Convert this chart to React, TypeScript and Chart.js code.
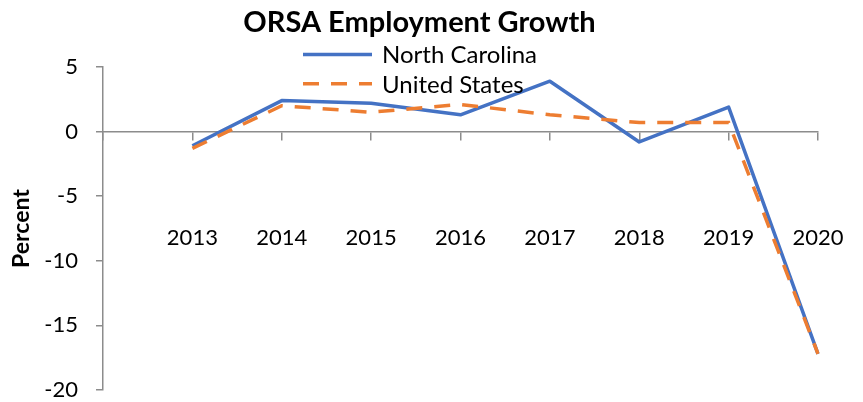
import React, { useEffect, useRef } from 'react';
import { Chart, registerables } from 'chart.js';

Chart.register(...registerables);

// ---- data ----
const categories = ['', '2013', '2014', '2015', '2016', '2017', '2018', '2019', '2020'];
const northCarolina = [null, -1.1, 2.4, 2.2, 1.3, 3.9, -0.8, 1.9, -17.2];
const unitedStates = [null, -1.3, 2.0, 1.5, 2.1, 1.3, 0.7, 0.7, -17.2];
const seriesNames = ['North Carolina', 'United States'];
const yMin = -20;
const yMax = 5;
const yStep = 5;
const chartTitle = 'ORSA Employment Growth';
const yAxisTitle = 'Percent';

const FONT = 'Lato';
const AXIS_GRAY = '#8c8c8c';

const stackedLegend = {
  id: 'stackedLegend',
  afterDraw(chart: any) {
    const ctx = chart.ctx;
    const x0 = 303;
    const lineLen = 69;
    const textX = 382;
    const y0 = 54.5;
    const rowH = 29.3;
    ctx.save();
    chart.data.datasets.forEach((ds: any, i: number) => {
      const y = y0 + i * rowH;
      ctx.beginPath();
      ctx.setLineDash(ds.borderDash || []);
      ctx.lineWidth = ds.borderWidth;
      ctx.strokeStyle = ds.borderColor;
      ctx.lineCap = 'butt';
      ctx.moveTo(x0, y);
      ctx.lineTo(x0 + lineLen, y);
      ctx.stroke();
      ctx.setLineDash([]);
      ctx.fillStyle = '#000';
      ctx.font = `24px ${FONT}`;
      ctx.textBaseline = 'middle';
      ctx.textAlign = 'left';
      ctx.fillText(ds.label, textX, y + 1);
    });
    ctx.restore();
  },
};

export default function App() {
  const ref = useRef<HTMLCanvasElement | null>(null);

  useEffect(() => {
    if (!ref.current) return;
    const chart = new Chart(ref.current, {
      type: 'line',
      data: {
        labels: categories,
        datasets: [
          {
            label: seriesNames[0],
            data: northCarolina,
            borderColor: '#4472C4',
            backgroundColor: '#4472C4',
            borderWidth: 3.5,
            pointRadius: 0,
            tension: 0,
            borderJoinStyle: 'round',
            order: 1,
          },
          {
            label: seriesNames[1],
            data: unitedStates,
            borderColor: '#ED7D31',
            backgroundColor: '#ED7D31',
            borderWidth: 3.5,
            borderDash: [16, 12],
            pointRadius: 0,
            tension: 0,
            order: 0,
          },
        ],
      },
      options: {
        responsive: false,
        animation: false,
        color: '#000',
        layout: { padding: { left: 0, right: 24, top: 0, bottom: 12 } },
        plugins: {
          legend: { display: false },
          tooltip: { enabled: false },
          title: {
            display: true,
            text: chartTitle,
            color: '#000',
            font: { family: FONT, size: 29, weight: 'bold', lineHeight: 1.2 },
            padding: { top: 5.6, bottom: 26.6 },
          },
        },
        scales: {
          x: {
            type: 'category',
            position: { y: 0 },
            offset: false,
            grid: {
              drawOnChartArea: false,
              color: AXIS_GRAY,
              lineWidth: 1.5,
              tickLength: 8,
            },
            border: { display: true, color: AXIS_GRAY, width: 1.5 },
            ticks: {
              color: '#000',
              font: { family: FONT, size: 22, lineHeight: 1.2 },
              padding: 85,
              autoSkip: false,
              maxRotation: 0,
              minRotation: 0,
            },
            afterFit: (s: any) => {
              s.paddingLeft = 0;
              s.paddingRight = 45;
            },
          },
          y: {
            type: 'linear',
            position: 'left',
            min: yMin,
            max: yMax,
            grid: {
              drawOnChartArea: false,
              color: AXIS_GRAY,
              lineWidth: 1.5,
              tickLength: 7,
            },
            border: { display: true, color: AXIS_GRAY, width: 1.5 },
            ticks: {
              stepSize: yStep,
              color: '#000',
              font: { family: FONT, size: 22, lineHeight: 1.2 },
              padding: 18,
            },
            title: {
              display: true,
              text: yAxisTitle,
              color: '#000',
              font: { family: FONT, size: 23, weight: 'bold', lineHeight: 1.2 },
              padding: { top: 7.5, bottom: 0 },
            },
            afterFit: (s: any) => {
              s.width = 103;
              s.paddingTop = 0;
              s.paddingBottom = 0;
            },
          },
        },
      },
      plugins: [stackedLegend],
    } as any);
    return () => chart.destroy();
  }, []);

  return (
    <div style={{ position: 'absolute', left: 0, top: 0, width: 863, height: 402, background: '#fff' }}>
      <canvas ref={ref} width={863} height={402} style={{ display: 'block' }} />
    </div>
  );
}
